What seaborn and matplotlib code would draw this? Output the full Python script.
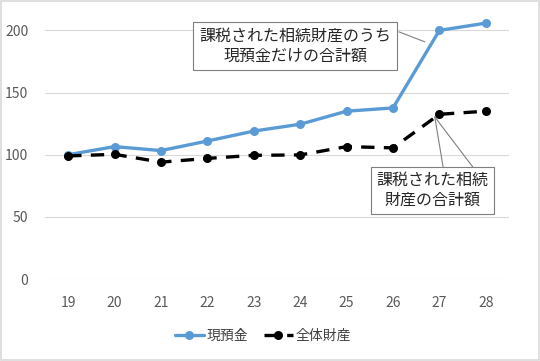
import pandas as pd
import matplotlib.pyplot as plt
import seaborn as sns

# data
years = [19, 20, 21, 22, 23, 24, 25, 26, 27, 28]
cash = [100, 106.5, 103.3, 111, 119, 124.5, 135, 137.6, 200, 205.8]
total = [99, 100.3, 94, 97, 99.5, 99.8, 106.5, 105.5, 132.5, 135]
yticks = [0, 50, 100, 150, 200]

df = pd.DataFrame({"年": years, "現預金": cash, "全体財産": total})

sns.set_theme(style="white")
plt.rcParams['font.family'] = ['Noto Sans CJK JP', 'DejaVu Sans']

fig = plt.figure(figsize=(5.4, 3.61), dpi=100)
ax = fig.add_axes([0.0833, 0.2271, 0.8593, 0.737])

blue = "#5B9BD5"
sns.lineplot(data=df, x="年", y="現預金", ax=ax, color=blue, linewidth=2.4,
             marker="o", markersize=6.5, markeredgewidth=0, label="現預金")
sns.lineplot(data=df, x="年", y="全体財産", ax=ax, color="black", linewidth=2.4,
             linestyle=(0, (4, 2.8)), marker="o", markersize=6.5, markeredgewidth=0,
             label="全体財産")

ax.set_xlim(18.5, 28.5)
ax.set_ylim(0, 214)
ax.set_xticks(years)
ax.set_xticklabels([str(y) for y in years])
ax.set_yticks(yticks)
ax.set_xlabel("")
ax.set_ylabel("")
ax.tick_params(axis="both", length=0, labelsize=10, labelcolor="#595959")
ax.tick_params(axis="x", pad=12)
ax.tick_params(axis="y", pad=12)
ax.grid(axis="y", color="#D9D9D9", linewidth=0.8)
ax.grid(axis="x", visible=False)
for s in ax.spines.values():
    s.set_visible(False)

# callouts
gray = "#7F7F7F"
box = dict(boxstyle="square,pad=0.35", facecolor="white", edgecolor=gray, linewidth=0.8)
line = dict(arrowstyle="-", color=gray, linewidth=0.8, shrinkA=0, shrinkB=0)

ax.annotate("", xy=(26.69, 190.7), xytext=(26.13, 198.8), arrowprops=line)
ax.text(23.89, 187.5, "課税された相続財産のうち\n現預金だけの合計額", ha="center", va="center",
        fontsize=11.5, linespacing=1.2, bbox=box, zorder=5)

ax.annotate("", xy=(26.9, 130.4), xytext=(27.08, 90.1), arrowprops=line)
ax.annotate("", xy=(26.9, 130.4), xytext=(27.72, 90.1), arrowprops=line)
ax.text(26.85, 71.2, "課税された相続\n財産の合計額", ha="center", va="center",
        fontsize=11.5, linespacing=1.2, bbox=box, zorder=5)

ax.get_legend().remove()
h, l = ax.get_legend_handles_labels()
fig.legend(h, l, loc="center", bbox_to_anchor=(0.487, 0.069), ncol=2, frameon=False,
           fontsize=10, handlelength=2.1, handletextpad=0.2, columnspacing=1.1,
           labelcolor="#404040")

fig.patches.append(plt.Rectangle((0.002, 0.003), 0.996, 0.994, transform=fig.transFigure,
                                 fill=False, edgecolor="#D9D9D9", linewidth=1.2))

fig.savefig("out.png", dpi=100)
